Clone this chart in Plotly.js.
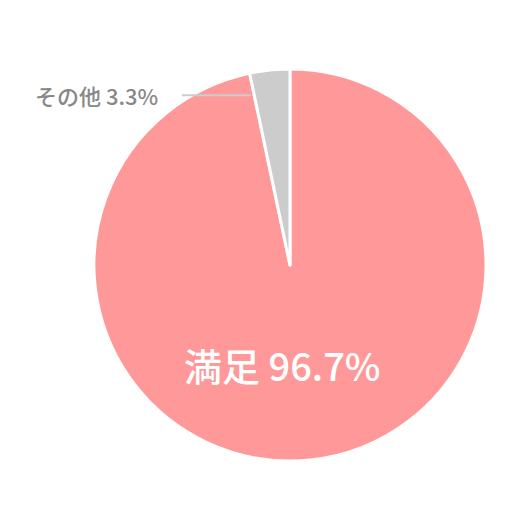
<!DOCTYPE html>
<html>
<head>
<meta charset="utf-8">
<script src="https://cdn.plot.ly/plotly-3.0.1.min.js"></script>
<style>
  html, body { margin: 0; padding: 0; background: #fff; }
  #chart { width: 530px; height: 530px; }
</style>
</head>
<body>
<div id="chart"></div>
<script>
const labels = ['満足', 'その他'];
const values = [96.7, 3.3];
const colors = ['#ff9999', '#cccccc'];

const data = [{
  type: 'pie',
  labels,
  values,
  sort: false,
  direction: 'clockwise',
  rotation: 0,
  marker: {colors, line: {color: '#ffffff', width: 3}},
  textinfo: 'none',
  hoverinfo: 'none',
  showlegend: false
}];

// labels placed by hand like the original (big one low in the slice, small one outside)
const total = values.reduce((a, b) => a + b, 0);
const pct = i => (values[i] / total * 100).toFixed(1) + '%';
const annotations = [{
  text: labels[0] + ' ' + pct(0),
  xref: 'paper',
  yref: 'paper',
  x: 0.48,
  y: 0.172,
  showarrow: false,
  font: {color: '#ffffff', size: 38, family: 'Noto Sans CJK JP', weight: 500}
}, {
  text: labels[1] + ' ' + pct(1),
  xref: 'paper',
  yref: 'paper',
  x: 0.40,
  y: 0.933,
  ax: -154,
  ay: 0,
  showarrow: true,
  arrowhead: 0,
  arrowwidth: 2,
  arrowcolor: '#cccccc',
  startstandoff: 22,
  font: {color: '#888888', size: 22, family: 'Noto Sans CJK JP', weight: 500}
}];

const layout = {
  width: 530,
  height: 530,
  margin: {l: 94, r: 44, t: 69, b: 69},
  paper_bgcolor: '#ffffff',
  annotations
};

Plotly.newPlot('chart', data, layout, {displayModeBar: false, staticPlot: true});
</script>
</body>
</html>
